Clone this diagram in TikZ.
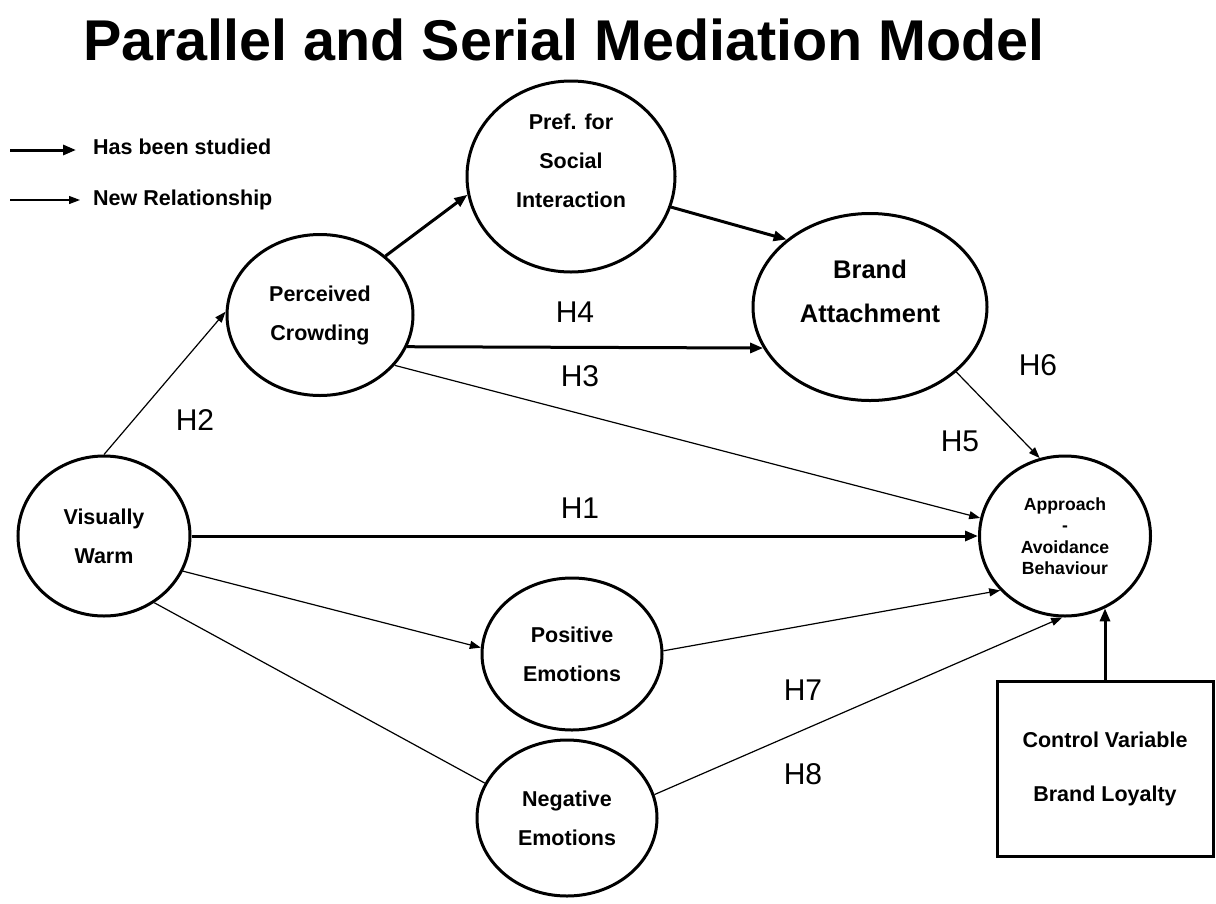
\documentclass[tikz,border=0pt]{standalone}
\usepackage{fontspec}
\setmainfont{Liberation Sans}
\usetikzlibrary{arrows.meta,shapes.geometric,calc}

\begin{document}
\begin{tikzpicture}[x=1pt,y=-1pt,
  oval/.style={draw,ellipse,line width=3pt,inner sep=0pt,align=center,
    font=\bfseries\fontsize{21.5}{39}\selectfont},
  txt/.style={align=center,inner sep=0pt,font=\bfseries\fontsize{21.5}{39}\selectfont},
  legendtxt/.style={anchor=west,inner sep=0pt,font=\bfseries\fontsize{21.5}{24}\selectfont},
  hyp/.style={inner sep=0pt,font=\fontsize{30}{36}\selectfont},
  studied/.style={line width=3pt,-{Triangle[length=13pt,width=10pt]}},
  newrel/.style={line width=1.2pt,-{Triangle[length=11pt,width=8pt]}},
  plainlink/.style={line width=1.2pt},
]
\useasboundingbox (0,0) rectangle (1216,903);

% title
\node[inner sep=0pt,font=\bfseries\fontsize{57.5}{60}\selectfont] (title) at (564,40)
  {Parallel and Serial Mediation Model};

% legend
\coordinate (l1a) at (10,150);
\coordinate (l1b) at (76,150);
\coordinate (l2a) at (10,200);
\coordinate (l2b) at (80,200);
\draw[studied] (l1a) -- (l1b);
\draw[newrel] (l2a) -- (l2b);
\node[legendtxt] (l1t) at (93,147) {Has been studied};
\node[legendtxt] (l2t) at (93,200) {New Relationship};

% constructs
\node[oval,minimum width=172pt,minimum height=160pt] (vw) at (104,536) {Visually\\Warm};
\node[oval,minimum width=186pt,minimum height=161pt] (pc) at (320,315) {Perceived\\Crowding};
\node[oval,minimum width=208pt,minimum height=191pt] (pref) at (571,176.5) {};
\node[txt] (preft) at (571,161) {Pref. for\\Social\\Interaction};
\node[oval,minimum width=234pt,minimum height=187pt] (ba) at (870,307) {};
\node[txt,font=\bfseries\fontsize{25.5}{44}\selectfont] (bat) at (870,291) {Brand\\Attachment};
\node[oval,minimum width=171pt,minimum height=160pt,
  font=\bfseries\fontsize{17.6}{21.5}\selectfont] (aa) at (1065,536)
  {Approach\\-\\Avoidance\\Behaviour};
\node[oval,minimum width=180pt,minimum height=152pt] (pos) at (572,654) {Positive\\Emotions};
\node[oval,minimum width=180pt,minimum height=156pt] (neg) at (567,818) {Negative\\Emotions};
\node[draw,line width=3pt,minimum width=216pt,minimum height=175pt,align=center,
  font=\bfseries\fontsize{21.5}{54}\selectfont] (box) at (1105,768.5)
  {Control Variable\\Brand Loyalty};

% paths already studied
\draw[studied] (pc.42) -- (pref.190);
\draw[studied] (pref.-17) -- (ba.141);
\draw[studied] (pc.-20) -- (ba.201);
\draw[studied] (vw.east) -- (aa.west);
\draw[studied] (box.north) -- (box.north |- aa.-61);

% new relationships
\draw[newrel] (vw.90) -- (pc.178);
\draw[newrel] (pc.-34) -- (aa.168);
\draw[newrel] (ba.-37) -- (aa.108);
\draw[newrel] (vw.-24) -- (pos.176);
\draw[newrel] (pos.2) -- (aa.220);
\draw[plainlink] (vw.-53) -- (neg.157);
\draw[newrel] (neg.15) -- (aa.268);

% hypothesis labels
\node[hyp] (h1) at (580,508) {H1};
\node[hyp] (h2) at (195,420) {H2};
\node[hyp] (h3) at (580,376) {H3};
\node[hyp] (h4) at (575,312) {H4};
\node[hyp] (h5) at (960,441) {H5};
\node[hyp] (h6) at (1038,365) {H6};
\node[hyp] (h7) at (803,690) {H7};
\node[hyp] (h8) at (803,774) {H8};
\end{tikzpicture}
\end{document}
